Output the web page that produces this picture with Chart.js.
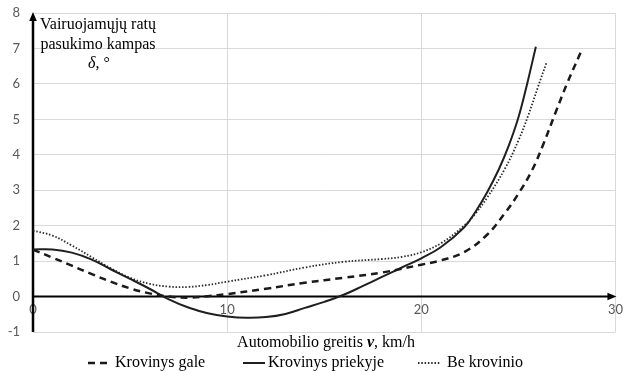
<!DOCTYPE html>
<html>
<head>
<meta charset="utf-8">
<script src="https://cdn.jsdelivr.net/npm/chart.js@4.4.1/dist/chart.umd.min.js"></script>
<style>
  html, body { margin: 0; padding: 0; background: #ffffff; }
  #wrap { width: 628px; height: 371px; position: relative; }
</style>
</head>
<body>
<div id="wrap"><canvas id="c" width="628" height="371"></canvas></div>
<script>
// ---- Data ----
const seriesLabels = ["Krovinys gale", "Krovinys priekyje", "Be krovinio"];

const speedGale = [0,1,2,3,4,5,6,7,8,9,10,12,14,16,18,20,21,22.2,23.4,24.3,25,25.7,26.3,26.9,27.5,28.2];
const angleGale = [1.32,1.1,0.87,0.64,0.42,0.23,0.09,0,-0.03,0.01,0.07,0.22,0.39,0.53,0.68,0.9,1.02,1.25,1.75,2.35,2.9,3.56,4.32,5.17,6.0,6.88];

const speedPriekyje = [0,1,2,3,4,5,6,7,8,9,10,11,12,13,14,15,16,17,18,19,20,21,22.2,22.8,23.4,24.0,24.5,25.0,25.45,25.9];
const anglePriekyje = [1.33,1.33,1.24,1.05,0.77,0.5,0.22,-0.08,-0.31,-0.47,-0.56,-0.6,-0.58,-0.49,-0.32,-0.15,0.05,0.3,0.56,0.82,1.08,1.39,1.95,2.4,2.95,3.6,4.25,5.05,6.0,7.05];

const speedBe = [0,1,2,3,4,5,6,7,8,9,10,12,14,16,18,19,20,21,22.2,22.8,23.4,24.3,25,25.5,26,26.45];
const angleBe = [1.86,1.72,1.44,1.12,0.8,0.53,0.36,0.28,0.27,0.33,0.42,0.6,0.82,0.98,1.06,1.12,1.25,1.5,2.0,2.35,2.8,3.6,4.4,5.1,5.9,6.6];

const xTickValues = [0, 10, 20, 30];
const yTickValues = [-1, 0, 1, 2, 3, 4, 5, 6, 7, 8];

const yTitleLines = ["Vairuojamųjų ratų", "pasukimo kampas"];
const yTitleSymbol = "δ";
const yTitleUnit = ", °";
const xTitleParts = ["Automobilio greitis ", "v", ", km/h"];

function pairs(xs, ys) { return xs.map((x, i) => ({ x: x, y: ys[i] })); }

const SERIF = "'Liberation Serif', 'Times New Roman', serif";
const SANS = "Lato, 'Open Sans', sans-serif";

// ---- Custom drawing: axes with arrows, titles, legend ----
const decorPlugin = {
  id: 'decor',
  beforeDatasetsDraw(chart) {
    const ctx = chart.ctx;
    const xs = chart.scales.x, ys = chart.scales.y;
    const x0 = xs.getPixelForValue(0);
    const y0 = ys.getPixelForValue(0);
    const top = ys.getPixelForValue(8);
    const bottom = ys.getPixelForValue(-1);
    const right = xs.getPixelForValue(30);
    ctx.save();
    ctx.strokeStyle = '#000';
    ctx.fillStyle = '#000';
    // y axis
    ctx.lineWidth = 2.5;
    ctx.beginPath();
    ctx.moveTo(x0, bottom);
    ctx.lineTo(x0, top + 6);
    ctx.stroke();
    ctx.beginPath();
    ctx.moveTo(x0, top - 1);
    ctx.lineTo(x0 - 3.8, top + 8);
    ctx.lineTo(x0 + 3.8, top + 8);
    ctx.closePath();
    ctx.fill();
    // x axis
    ctx.lineWidth = 2;
    ctx.beginPath();
    ctx.moveTo(x0, y0);
    ctx.lineTo(right - 6, y0);
    ctx.stroke();
    ctx.beginPath();
    ctx.moveTo(right + 1, y0);
    ctx.lineTo(right - 8, y0 - 3.8);
    ctx.lineTo(right - 8, y0 + 3.8);
    ctx.closePath();
    ctx.fill();
    ctx.restore();
  },
  afterDraw(chart) {
    const ctx = chart.ctx;
    ctx.save();
    ctx.fillStyle = '#000';
    ctx.textBaseline = 'middle';
    // y title inside plot
    ctx.font = '16px ' + SERIF;
    ctx.textAlign = 'center';
    ctx.fillText(yTitleLines[0], 98, 25);
    ctx.fillText(yTitleLines[1], 98, 45);
    ctx.textAlign = 'left';
    ctx.font = 'italic 16px ' + SERIF;
    const wSym = ctx.measureText(yTitleSymbol).width;
    ctx.font = '16px ' + SERIF;
    const wUnit = ctx.measureText(yTitleUnit).width;
    let sx = 99 - (wSym + wUnit) / 2;
    ctx.font = 'italic 16px ' + SERIF;
    ctx.fillText(yTitleSymbol, sx, 64);
    ctx.font = '16px ' + SERIF;
    ctx.fillText(yTitleUnit, sx + wSym, 64);

    // x title
    const fonts = ['16px ' + SERIF, 'italic bold 16px ' + SERIF, '16px ' + SERIF];
    let widths = xTitleParts.map((t, i) => { ctx.font = fonts[i]; return ctx.measureText(t).width; });
    let total = widths.reduce((a, b) => a + b, 0);
    let tx = 326 - total / 2;
    xTitleParts.forEach((t, i) => { ctx.font = fonts[i]; ctx.fillText(t, tx, 343); tx += widths[i]; });

    // legend
    const legendPos = [[88, 112, 115], [243, 265, 268], [418, 440, 447]];
    const ly = 363;
    chart.data.datasets.forEach((ds, i) => {
      const p = legendPos[i];
      ctx.save();
      ctx.strokeStyle = ds.borderColor;
      ctx.lineWidth = ds.borderWidth;
      ctx.setLineDash(ds.borderDash || []);
      ctx.beginPath();
      ctx.moveTo(p[0], ly);
      ctx.lineTo(p[1], ly);
      ctx.stroke();
      ctx.restore();
      ctx.font = '16px ' + SERIF;
      ctx.fillStyle = '#000';
      ctx.fillText(ds.label, p[2], ly);
    });
    ctx.restore();
  }
};

new Chart(document.getElementById('c'), {
  type: 'line',
  data: {
    datasets: [
      {
        label: seriesLabels[0],
        data: pairs(speedGale, angleGale),
        borderColor: '#1a1a1a',
        borderWidth: 2.5,
        borderDash: [7, 5],
        pointRadius: 0,
        fill: false,
        tension: 0.4
      },
      {
        label: seriesLabels[1],
        data: pairs(speedPriekyje, anglePriekyje),
        borderColor: '#1f1f1f',
        borderWidth: 2,
        pointRadius: 0,
        fill: false,
        tension: 0.4
      },
      {
        label: seriesLabels[2],
        data: pairs(speedBe, angleBe),
        borderColor: '#2b2b2b',
        borderWidth: 1.8,
        borderDash: [1.5, 1.8],
        pointRadius: 0,
        fill: false,
        tension: 0.4
      }
    ]
  },
  options: {
    responsive: false,
    animation: false,
    devicePixelRatio: 1,
    layout: { padding: { left: 0, right: 11, top: 13, bottom: 39 } },
    plugins: {
      legend: { display: false },
      tooltip: { enabled: false },
      title: { display: false }
    },
    scales: {
      x: {
        type: 'linear',
        min: 0,
        max: 30,
        position: { y: 0 },
        afterBuildTicks(scale) { scale.ticks = xTickValues.map(v => ({ value: v })); },
        afterFit(scale) { scale.height = 0; },
        ticks: {
          color: '#595959',
          font: { family: SANS, size: 13 },
          padding: 5,
          maxRotation: 0
        },
        grid: { color: '#d9d9d9', lineWidth: 1, drawTicks: false },
        border: { display: false }
      },
      y: {
        type: 'linear',
        min: -1,
        max: 8,
        afterBuildTicks(scale) { scale.ticks = yTickValues.map(v => ({ value: v })); },
        afterFit(scale) { scale.width = 33; scale.paddingTop = 7; scale.paddingBottom = 7; },
        ticks: {
          color: '#595959',
          font: { family: SANS, size: 13 },
          padding: 13
        },
        grid: { color: '#d9d9d9', lineWidth: 1, drawTicks: false },
        border: { display: false }
      }
    }
  },
  plugins: [decorPlugin]
});
</script>
</body>
</html>
